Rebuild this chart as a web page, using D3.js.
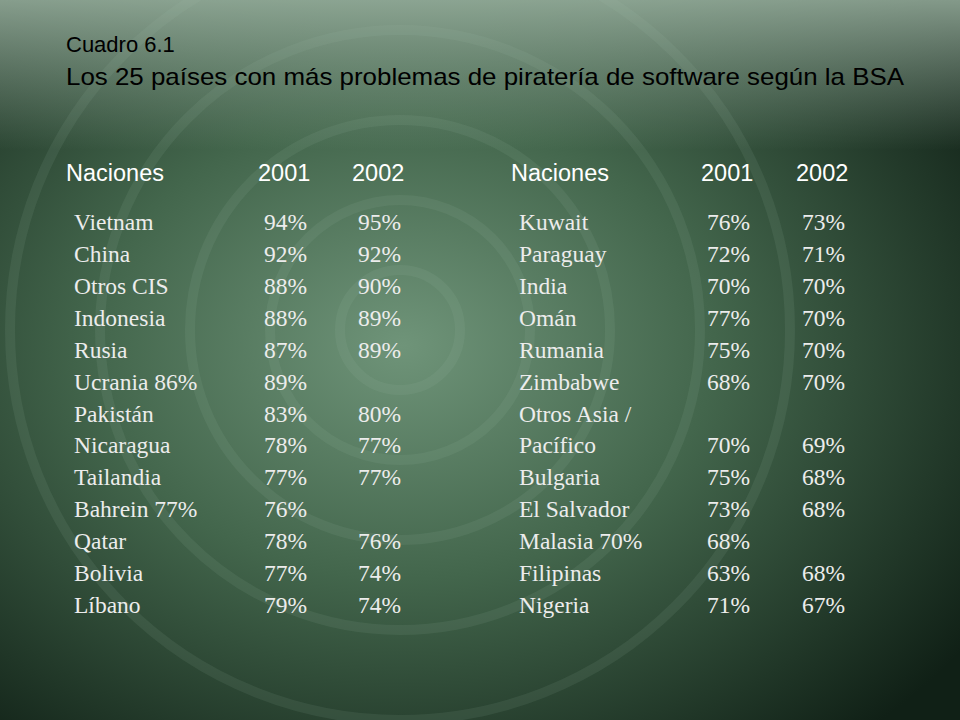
<!DOCTYPE html>
<meta charset="utf-8">
<style>
body { margin: 0; }
svg { display: block; }
</style>
<svg width="960" height="720"></svg>
<script src="https://d3js.org/d3.v7.min.js"></script>
<script>

var titleLines = ["Cuadro 6.1", "Los 25 países con más problemas de piratería de software según la BSA"];
var headers = ["Naciones", "2001", "2002"];

var leftNames = ["Vietnam", "China", "Otros CIS", "Indonesia", "Rusia", "Ucrania 86%", "Pakistán", "Nicaragua", "Tailandia", "Bahrein 77%", "Qatar", "Bolivia", "Líbano"];
var left2001 = ["94%", "92%", "88%", "88%", "87%", "89%", "83%", "78%", "77%", "76%", "78%", "77%", "79%"];
var left2002 = ["95%", "92%", "90%", "89%", "89%", "", "80%", "77%", "77%", "", "76%", "74%", "74%"];

var rightNames = ["Kuwait", "Paraguay", "India", "Omán", "Rumania", "Zimbabwe", "Otros Asia /", "Pacífico", "Bulgaria", "El Salvador", "Malasia 70%", "Filipinas", "Nigeria"];
var right2001 = ["76%", "72%", "70%", "77%", "75%", "68%", "", "70%", "75%", "73%", "68%", "63%", "71%"];
var right2002 = ["73%", "71%", "70%", "70%", "70%", "70%", "", "69%", "68%", "68%", "", "68%", "67%"];

var svg = d3.select("svg"),
    width = +svg.attr("width"),
    height = +svg.attr("height");

var defs = svg.append("defs");
var grad = defs.append("radialGradient").attr("id", "bg")
    .attr("cx", 0.42).attr("cy", 0.48).attr("r", 0.72);
grad.append("stop").attr("offset", "0%").attr("stop-color", "#6f9479");
grad.append("stop").attr("offset", "45%").attr("stop-color", "#43664c");
grad.append("stop").attr("offset", "100%").attr("stop-color", "#102016");
svg.append("rect").attr("width", width).attr("height", height).attr("fill", "url(#bg)");

var topFade = defs.append("linearGradient").attr("id", "topfade").attr("x1", 0).attr("y1", 0).attr("x2", 0).attr("y2", 1);
topFade.append("stop").attr("offset", "0%").attr("stop-color", "#aac2b0").attr("stop-opacity", 0.75);
topFade.append("stop").attr("offset", "100%").attr("stop-color", "#aac2b0").attr("stop-opacity", 0);
svg.append("rect").attr("width", width).attr("height", 150).attr("fill", "url(#topfade)");

// faint decorative rings
[60, 130, 210, 300, 390].forEach(function(r) {
  svg.append("circle").attr("cx", 400).attr("cy", 330).attr("r", r)
      .attr("fill", "none").attr("stroke", "#a8c4b0").attr("stroke-opacity", 0.1).attr("stroke-width", 10);
});

svg.selectAll(".title")
  .data(titleLines)
  .enter().append("text")
    .attr("x", 66)
    .attr("y", function(d, i) { return 52 + i * 33; })
    .attr("font-family", "Liberation Sans, Arial, sans-serif")
    .attr("font-size", function(d, i) { return i == 1 ? 24 : 22; })
    .attr("fill", "#000")
    .attr("textLength", function(d, i) { return i == 1 ? 838 : null; })
    .attr("lengthAdjust", "spacingAndGlyphs")
    .text(function(d) { return d; });

var y = d3.scaleLinear().domain([0, 12]).range([230, 613]);

function table(x0, xs, names, c1, c2) {
  var g = svg.append("g");
  g.selectAll(".h").data(headers).enter().append("text")
      .attr("x", function(d, i) { return i == 0 ? x0 - 8 : xs[i - 1] - 6; })
      .attr("y", 181)
      .attr("font-family", "Liberation Sans, Arial, sans-serif")
      .attr("font-size", 23.5)
      .attr("fill", "#fff")
      .text(function(d) { return d; });
  var cols = [[x0, names], [xs[0], c1], [xs[1], c2]];
  cols.forEach(function(c) {
    g.selectAll(null).data(c[1]).enter().append("text")
        .attr("x", c[0])
        .attr("y", function(d, i) { return y(i); })
        .attr("font-family", "Liberation Serif, Times New Roman, serif")
        .attr("font-size", 23.5)
        .attr("fill", "#ececec")
        .text(function(d) { return d; });
  });
}

table(74, [264, 358], leftNames, left2001, left2002);
table(519, [707, 802], rightNames, right2001, right2002);

</script>
